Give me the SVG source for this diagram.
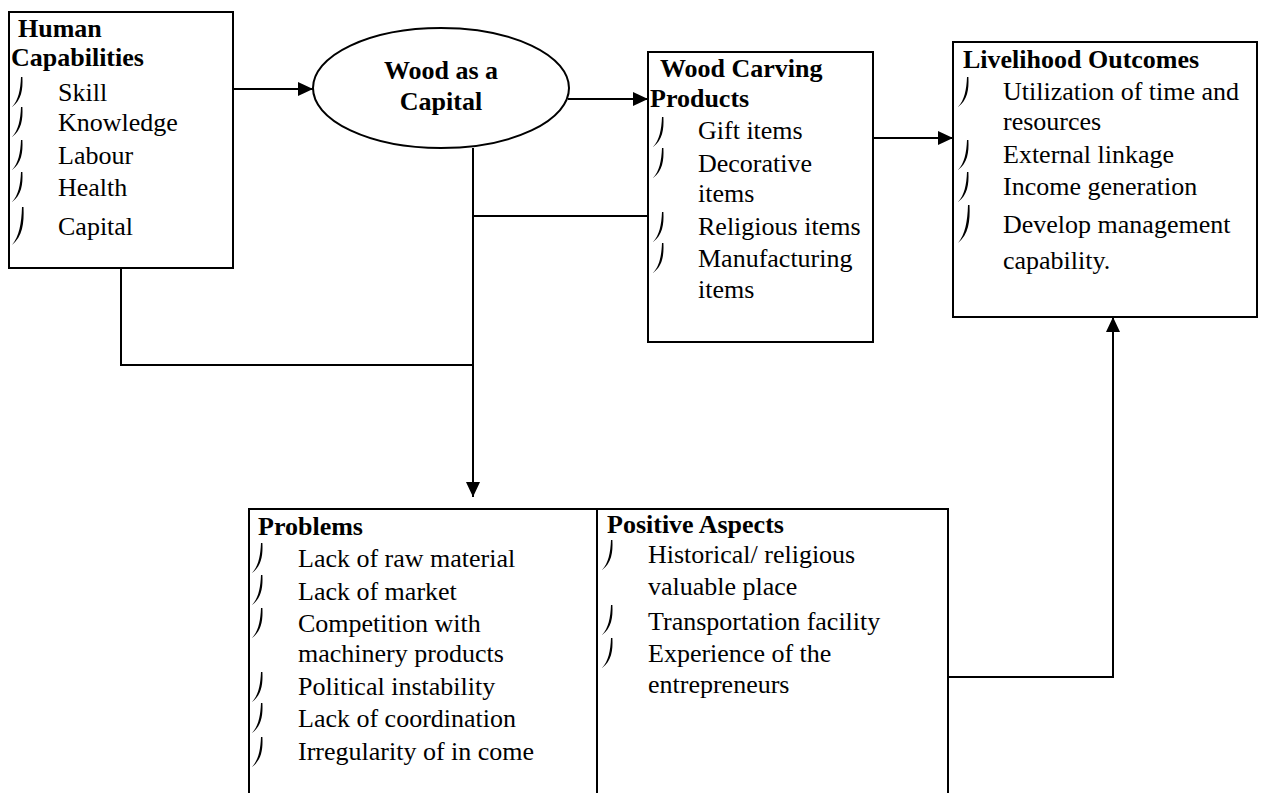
<svg xmlns="http://www.w3.org/2000/svg" xmlns:xlink="http://www.w3.org/1999/xlink" width="1262" height="793" viewBox="0 0 1262 793">
<style>
  text { font-family: "Liberation Serif", "Times New Roman", serif; font-size: 26px; fill: #000; }
  .b { font-weight: bold; }
  .box { fill: #fff; stroke: #000; stroke-width: 2; }
  .ln { fill: none; stroke: #000; stroke-width: 2; }
  .ctr { text-anchor: middle; }
</style>
<defs>
  <marker id="arr" viewBox="0 0 15 14" refX="15" refY="7" markerWidth="15" markerHeight="14" markerUnits="userSpaceOnUse" orient="auto">
    <path d="M0,0 L15,7 L0,14 Z" fill="#000"/>
  </marker>
  <path id="bul" d="M0,0 L1.4,0 C2,13 0.5,23 -9,30 C-2.5,23 -0.6,13 0,0 Z" fill="#000"/>
  <path id="bulL" d="M0,0 L1.5,0 C2.2,17 0.6,29 -10,38 C-2.8,29 -0.6,17 0,0 Z" fill="#000"/>
</defs>

<rect width="1262" height="793" fill="#fff"/>

<g id="connectors">
  <line class="ln" x1="233" y1="89" x2="313" y2="89" marker-end="url(#arr)"/>
  <line class="ln" x1="568" y1="99" x2="648" y2="99" marker-end="url(#arr)"/>
  <line class="ln" x1="873" y1="138" x2="953" y2="138" marker-end="url(#arr)"/>
  <line class="ln" x1="473" y1="148" x2="473" y2="497" marker-end="url(#arr)"/>
  <line class="ln" x1="473" y1="216" x2="648" y2="216"/>
  <polyline class="ln" points="121,268 121,365 473,365"/>
  <polyline class="ln" points="948,677 1113,677 1113,317" marker-end="url(#arr)"/>
</g>

<g id="human-capabilities">
  <rect class="box" x="9" y="12" width="224" height="256"/>
  <text class="b" x="18" y="37">Human</text>
  <text class="b" x="11" y="66">Capabilities</text>
  <use xlink:href="#bul" x="21" y="77"/>
  <use xlink:href="#bul" x="21" y="107"/>
  <use xlink:href="#bul" x="21" y="140"/>
  <use xlink:href="#bul" x="21" y="172"/>
  <use xlink:href="#bulL" x="22" y="207"/>
  <text x="58" y="101">Skill</text>
  <text x="58" y="131">Knowledge</text>
  <text x="58" y="164">Labour</text>
  <text x="58" y="196">Health</text>
  <text x="58" y="235">Capital</text>
</g>

<g id="wood-capital">
  <ellipse class="box" cx="441" cy="88" rx="128" ry="60"/>
  <text class="b ctr" x="441" y="79">Wood as a</text>
  <text class="b ctr" x="441" y="110">Capital</text>
</g>

<g id="wood-carving-products">
  <rect class="box" x="648" y="52" width="225" height="290"/>
  <text class="b" x="660" y="77">Wood Carving</text>
  <text class="b" x="650" y="107">Products</text>
  <use xlink:href="#bul" x="662" y="117"/>
  <use xlink:href="#bul" x="662" y="148"/>
  <use xlink:href="#bul" x="662" y="212"/>
  <use xlink:href="#bul" x="662" y="243"/>
  <text x="698" y="139">Gift items</text>
  <text x="698" y="172">Decorative</text>
  <text x="698" y="202">items</text>
  <text x="698" y="235">Religious items</text>
  <text x="698" y="267">Manufacturing</text>
  <text x="698" y="298">items</text>
</g>

<g id="livelihood-outcomes">
  <rect class="box" x="953" y="42" width="304" height="275"/>
  <text class="b" x="963" y="68">Livelihood Outcomes</text>
  <use xlink:href="#bul" x="967" y="77"/>
  <use xlink:href="#bul" x="967" y="140"/>
  <use xlink:href="#bul" x="967" y="172"/>
  <use xlink:href="#bulL" x="968" y="205"/>
  <text x="1003" y="100">Utilization of time and</text>
  <text x="1003" y="130">resources</text>
  <text x="1003" y="163">External linkage</text>
  <text x="1003" y="195">Income generation</text>
  <text x="1003" y="233">Develop management</text>
  <text x="1003" y="269">capability.</text>
</g>

<g id="problems">
  <path class="ln" d="M249,793 L249,509 L597,509 L597,793"/>
  <text class="b" x="258" y="535">Problems</text>
  <use xlink:href="#bul" x="261" y="543"/>
  <use xlink:href="#bul" x="261" y="575"/>
  <use xlink:href="#bul" x="261" y="608"/>
  <use xlink:href="#bul" x="261" y="672"/>
  <use xlink:href="#bul" x="261" y="703"/>
  <use xlink:href="#bul" x="261" y="737"/>
  <text x="298" y="567">Lack of raw material</text>
  <text x="298" y="600">Lack of market</text>
  <text x="298" y="632">Competition with</text>
  <text x="298" y="662">machinery products</text>
  <text x="298" y="695">Political instability</text>
  <text x="298" y="727">Lack of coordination</text>
  <text x="298" y="760">Irregularity of in come</text>
</g>

<g id="positive-aspects">
  <path class="ln" d="M597,509 L948,509 L948,793"/>
  <text class="b" x="607" y="533">Positive Aspects</text>
  <use xlink:href="#bul" x="611" y="540"/>
  <use xlink:href="#bul" x="611" y="605"/>
  <use xlink:href="#bul" x="611" y="638"/>
  <text x="648" y="563">Historical/ religious</text>
  <text x="648" y="595">valuable place</text>
  <text x="648" y="630">Transportation facility</text>
  <text x="648" y="662">Experience of the</text>
  <text x="648" y="693">entrepreneurs</text>
</g>
</svg>
